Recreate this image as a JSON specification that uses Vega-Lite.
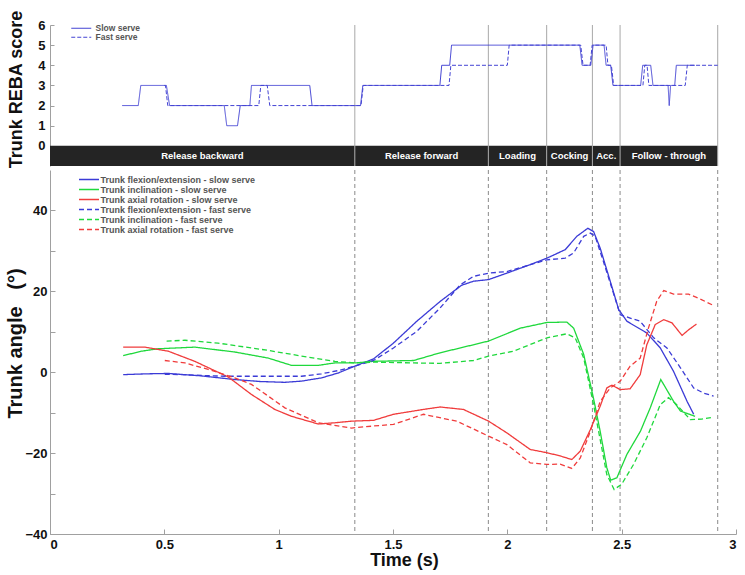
{
  "$schema": "https://vega.github.io/schema/vega-lite/v6.json",
  "background": "white",
  "padding": {"left": 5, "top": 9, "right": 6, "bottom": 4},
  "spacing": 0,
  "resolve": {
    "scale": {"strokeDash": "independent", "color": "independent"},
    "legend": {"strokeDash": "independent", "color": "independent"}
  },
  "config": {
    "view": {"stroke": null},
    "font": "Liberation Sans",
    "axis": {
      "domainColor": "#a0a0a0",
      "tickColor": "#a0a0a0",
      "labelFont": "Liberation Sans",
      "labelFontWeight": "bold",
      "labelFontSize": 13,
      "labelColor": "#111",
      "titleFont": "Liberation Sans",
      "titleFontWeight": "bold",
      "titleFontSize": 18,
      "titleColor": "#111",
      "grid": false
    },
    "legend": {
      "labelFont": "Liberation Sans",
      "labelFontWeight": "bold",
      "labelColor": "#555",
      "padding": 0,
      "rowPadding": -2
    }
  },
  "datasets": {
    "phases": [
      {"phase": "Release backward", "start": 0, "end": 1.333},
      {"phase": "Release forward", "start": 1.333, "end": 1.917},
      {"phase": "Loading", "start": 1.917, "end": 2.172},
      {"phase": "Cocking", "start": 2.172, "end": 2.372},
      {"phase": "Acc.", "start": 2.372, "end": 2.493},
      {"phase": "Follow - through", "start": 2.493, "end": 2.92}
    ],
    "reba": [
      {"serve": "Slow serve", "t": 0.316, "score": 2},
      {"serve": "Slow serve", "t": 0.386, "score": 2},
      {"serve": "Slow serve", "t": 0.397, "score": 3},
      {"serve": "Slow serve", "t": 0.509, "score": 3},
      {"serve": "Slow serve", "t": 0.523, "score": 2},
      {"serve": "Slow serve", "t": 0.762, "score": 2},
      {"serve": "Slow serve", "t": 0.773, "score": 1},
      {"serve": "Slow serve", "t": 0.82, "score": 1},
      {"serve": "Slow serve", "t": 0.832, "score": 2},
      {"serve": "Slow serve", "t": 0.874, "score": 2},
      {"serve": "Slow serve", "t": 0.881, "score": 3},
      {"serve": "Slow serve", "t": 1.136, "score": 3},
      {"serve": "Slow serve", "t": 1.146, "score": 2},
      {"serve": "Slow serve", "t": 1.358, "score": 2},
      {"serve": "Slow serve", "t": 1.368, "score": 3},
      {"serve": "Slow serve", "t": 1.705, "score": 3},
      {"serve": "Slow serve", "t": 1.713, "score": 4},
      {"serve": "Slow serve", "t": 1.748, "score": 4},
      {"serve": "Slow serve", "t": 1.756, "score": 5},
      {"serve": "Slow serve", "t": 2.317, "score": 5},
      {"serve": "Slow serve", "t": 2.327, "score": 4},
      {"serve": "Slow serve", "t": 2.365, "score": 4},
      {"serve": "Slow serve", "t": 2.375, "score": 5},
      {"serve": "Slow serve", "t": 2.423, "score": 5},
      {"serve": "Slow serve", "t": 2.432, "score": 4},
      {"serve": "Slow serve", "t": 2.452, "score": 4},
      {"serve": "Slow serve", "t": 2.462, "score": 3},
      {"serve": "Slow serve", "t": 2.583, "score": 3},
      {"serve": "Slow serve", "t": 2.592, "score": 4},
      {"serve": "Slow serve", "t": 2.627, "score": 4},
      {"serve": "Slow serve", "t": 2.637, "score": 3},
      {"serve": "Slow serve", "t": 2.703, "score": 3},
      {"serve": "Slow serve", "t": 2.708, "score": 2},
      {"serve": "Slow serve", "t": 2.714, "score": 3},
      {"serve": "Slow serve", "t": 2.732, "score": 3},
      {"serve": "Slow serve", "t": 2.739, "score": 4},
      {"serve": "Slow serve", "t": 2.82, "score": 4},
      {"serve": "Fast serve", "t": 0.5, "score": 3},
      {"serve": "Fast serve", "t": 0.505, "score": 3},
      {"serve": "Fast serve", "t": 0.515, "score": 2},
      {"serve": "Fast serve", "t": 0.913, "score": 2},
      {"serve": "Fast serve", "t": 0.922, "score": 3},
      {"serve": "Fast serve", "t": 0.95, "score": 3},
      {"serve": "Fast serve", "t": 0.961, "score": 2},
      {"serve": "Fast serve", "t": 1.36, "score": 2},
      {"serve": "Fast serve", "t": 1.37, "score": 3},
      {"serve": "Fast serve", "t": 1.745, "score": 3},
      {"serve": "Fast serve", "t": 1.753, "score": 4},
      {"serve": "Fast serve", "t": 2.0, "score": 4},
      {"serve": "Fast serve", "t": 2.008, "score": 5},
      {"serve": "Fast serve", "t": 2.321, "score": 5},
      {"serve": "Fast serve", "t": 2.331, "score": 4},
      {"serve": "Fast serve", "t": 2.362, "score": 4},
      {"serve": "Fast serve", "t": 2.371, "score": 5},
      {"serve": "Fast serve", "t": 2.432, "score": 5},
      {"serve": "Fast serve", "t": 2.44, "score": 4},
      {"serve": "Fast serve", "t": 2.455, "score": 4},
      {"serve": "Fast serve", "t": 2.465, "score": 3},
      {"serve": "Fast serve", "t": 2.593, "score": 3},
      {"serve": "Fast serve", "t": 2.601, "score": 4},
      {"serve": "Fast serve", "t": 2.611, "score": 4},
      {"serve": "Fast serve", "t": 2.619, "score": 3},
      {"serve": "Fast serve", "t": 2.778, "score": 3},
      {"serve": "Fast serve", "t": 2.787, "score": 4},
      {"serve": "Fast serve", "t": 2.92, "score": 4}
    ],
    "angles": [
      {"s": "Trunk flexion/extension - slow serve", "t": 0.32, "v": -0.6},
      {"s": "Trunk flexion/extension - slow serve", "t": 0.42, "v": -0.4},
      {"s": "Trunk flexion/extension - slow serve", "t": 0.517, "v": -0.3},
      {"s": "Trunk flexion/extension - slow serve", "t": 0.66, "v": -0.9},
      {"s": "Trunk flexion/extension - slow serve", "t": 0.807, "v": -1.8},
      {"s": "Trunk flexion/extension - slow serve", "t": 0.92, "v": -2.3},
      {"s": "Trunk flexion/extension - slow serve", "t": 1.026, "v": -2.5},
      {"s": "Trunk flexion/extension - slow serve", "t": 1.1, "v": -2.2},
      {"s": "Trunk flexion/extension - slow serve", "t": 1.187, "v": -1.4},
      {"s": "Trunk flexion/extension - slow serve", "t": 1.26, "v": -0.2},
      {"s": "Trunk flexion/extension - slow serve", "t": 1.333, "v": 1.5},
      {"s": "Trunk flexion/extension - slow serve", "t": 1.415, "v": 3.3},
      {"s": "Trunk flexion/extension - slow serve", "t": 1.502, "v": 7.2},
      {"s": "Trunk flexion/extension - slow serve", "t": 1.604, "v": 12.6},
      {"s": "Trunk flexion/extension - slow serve", "t": 1.706, "v": 17.5},
      {"s": "Trunk flexion/extension - slow serve", "t": 1.8, "v": 21.5},
      {"s": "Trunk flexion/extension - slow serve", "t": 1.852, "v": 22.5},
      {"s": "Trunk flexion/extension - slow serve", "t": 1.918, "v": 22.9},
      {"s": "Trunk flexion/extension - slow serve", "t": 1.998, "v": 24.5},
      {"s": "Trunk flexion/extension - slow serve", "t": 2.1, "v": 26.6},
      {"s": "Trunk flexion/extension - slow serve", "t": 2.173, "v": 28.2},
      {"s": "Trunk flexion/extension - slow serve", "t": 2.253, "v": 30.3},
      {"s": "Trunk flexion/extension - slow serve", "t": 2.304, "v": 33.6},
      {"s": "Trunk flexion/extension - slow serve", "t": 2.352, "v": 35.6},
      {"s": "Trunk flexion/extension - slow serve", "t": 2.377, "v": 34.8},
      {"s": "Trunk flexion/extension - slow serve", "t": 2.406, "v": 30.7},
      {"s": "Trunk flexion/extension - slow serve", "t": 2.45, "v": 22.5},
      {"s": "Trunk flexion/extension - slow serve", "t": 2.487, "v": 15.5},
      {"s": "Trunk flexion/extension - slow serve", "t": 2.523, "v": 12.6},
      {"s": "Trunk flexion/extension - slow serve", "t": 2.574, "v": 10.9},
      {"s": "Trunk flexion/extension - slow serve", "t": 2.61, "v": 9.7},
      {"s": "Trunk flexion/extension - slow serve", "t": 2.669, "v": 6.0},
      {"s": "Trunk flexion/extension - slow serve", "t": 2.727, "v": 0.2},
      {"s": "Trunk flexion/extension - slow serve", "t": 2.786, "v": -7.2},
      {"s": "Trunk flexion/extension - slow serve", "t": 2.815, "v": -10.4},
      {"s": "Trunk inclination - slow serve", "t": 0.32, "v": 4.1},
      {"s": "Trunk inclination - slow serve", "t": 0.4, "v": 5.2},
      {"s": "Trunk inclination - slow serve", "t": 0.473, "v": 5.8},
      {"s": "Trunk inclination - slow serve", "t": 0.633, "v": 6.2},
      {"s": "Trunk inclination - slow serve", "t": 0.808, "v": 5.0},
      {"s": "Trunk inclination - slow serve", "t": 0.954, "v": 3.5},
      {"s": "Trunk inclination - slow serve", "t": 1.056, "v": 1.7},
      {"s": "Trunk inclination - slow serve", "t": 1.173, "v": 1.7},
      {"s": "Trunk inclination - slow serve", "t": 1.246, "v": 2.3},
      {"s": "Trunk inclination - slow serve", "t": 1.333, "v": 2.3},
      {"s": "Trunk inclination - slow serve", "t": 1.415, "v": 2.7},
      {"s": "Trunk inclination - slow serve", "t": 1.59, "v": 2.9},
      {"s": "Trunk inclination - slow serve", "t": 1.706, "v": 4.8},
      {"s": "Trunk inclination - slow serve", "t": 1.918, "v": 7.7},
      {"s": "Trunk inclination - slow serve", "t": 2.057, "v": 10.9},
      {"s": "Trunk inclination - slow serve", "t": 2.173, "v": 12.3},
      {"s": "Trunk inclination - slow serve", "t": 2.26, "v": 12.4},
      {"s": "Trunk inclination - slow serve", "t": 2.29, "v": 10.9},
      {"s": "Trunk inclination - slow serve", "t": 2.334, "v": 4.4},
      {"s": "Trunk inclination - slow serve", "t": 2.377, "v": -6.5},
      {"s": "Trunk inclination - slow serve", "t": 2.406, "v": -14.6},
      {"s": "Trunk inclination - slow serve", "t": 2.435, "v": -23.6},
      {"s": "Trunk inclination - slow serve", "t": 2.452, "v": -26.7},
      {"s": "Trunk inclination - slow serve", "t": 2.479, "v": -26.1},
      {"s": "Trunk inclination - slow serve", "t": 2.523, "v": -20.3},
      {"s": "Trunk inclination - slow serve", "t": 2.582, "v": -14.6},
      {"s": "Trunk inclination - slow serve", "t": 2.625, "v": -8.8},
      {"s": "Trunk inclination - slow serve", "t": 2.671, "v": -1.8},
      {"s": "Trunk inclination - slow serve", "t": 2.727, "v": -7.2},
      {"s": "Trunk inclination - slow serve", "t": 2.757, "v": -9.6},
      {"s": "Trunk inclination - slow serve", "t": 2.821, "v": -10.9},
      {"s": "Trunk axial rotation - slow serve", "t": 0.32, "v": 6.2},
      {"s": "Trunk axial rotation - slow serve", "t": 0.415, "v": 6.2},
      {"s": "Trunk axial rotation - slow serve", "t": 0.517, "v": 5.2},
      {"s": "Trunk axial rotation - slow serve", "t": 0.633, "v": 2.7},
      {"s": "Trunk axial rotation - slow serve", "t": 0.78, "v": -1.2},
      {"s": "Trunk axial rotation - slow serve", "t": 0.881, "v": -5.5},
      {"s": "Trunk axial rotation - slow serve", "t": 0.983, "v": -9.2},
      {"s": "Trunk axial rotation - slow serve", "t": 1.056, "v": -10.9},
      {"s": "Trunk axial rotation - slow serve", "t": 1.173, "v": -12.8},
      {"s": "Trunk axial rotation - slow serve", "t": 1.246, "v": -12.5},
      {"s": "Trunk axial rotation - slow serve", "t": 1.319, "v": -12.1},
      {"s": "Trunk axial rotation - slow serve", "t": 1.415, "v": -11.9},
      {"s": "Trunk axial rotation - slow serve", "t": 1.502, "v": -10.4},
      {"s": "Trunk axial rotation - slow serve", "t": 1.633, "v": -9.2},
      {"s": "Trunk axial rotation - slow serve", "t": 1.706, "v": -8.6},
      {"s": "Trunk axial rotation - slow serve", "t": 1.808, "v": -9.2},
      {"s": "Trunk axial rotation - slow serve", "t": 1.918, "v": -12.1},
      {"s": "Trunk axial rotation - slow serve", "t": 1.998, "v": -15.0},
      {"s": "Trunk axial rotation - slow serve", "t": 2.1, "v": -19.1},
      {"s": "Trunk axial rotation - slow serve", "t": 2.173, "v": -19.9},
      {"s": "Trunk axial rotation - slow serve", "t": 2.231, "v": -20.7},
      {"s": "Trunk axial rotation - slow serve", "t": 2.282, "v": -21.6},
      {"s": "Trunk axial rotation - slow serve", "t": 2.319, "v": -19.5},
      {"s": "Trunk axial rotation - slow serve", "t": 2.363, "v": -14.2},
      {"s": "Trunk axial rotation - slow serve", "t": 2.406, "v": -8.4},
      {"s": "Trunk axial rotation - slow serve", "t": 2.435, "v": -3.9},
      {"s": "Trunk axial rotation - slow serve", "t": 2.457, "v": -3.2},
      {"s": "Trunk axial rotation - slow serve", "t": 2.494, "v": -4.3},
      {"s": "Trunk axial rotation - slow serve", "t": 2.537, "v": -4.1},
      {"s": "Trunk axial rotation - slow serve", "t": 2.581, "v": -0.6},
      {"s": "Trunk axial rotation - slow serve", "t": 2.61, "v": 6.8},
      {"s": "Trunk axial rotation - slow serve", "t": 2.647, "v": 11.8},
      {"s": "Trunk axial rotation - slow serve", "t": 2.684, "v": 13.0},
      {"s": "Trunk axial rotation - slow serve", "t": 2.72, "v": 12.2},
      {"s": "Trunk axial rotation - slow serve", "t": 2.764, "v": 9.1},
      {"s": "Trunk axial rotation - slow serve", "t": 2.793, "v": 10.5},
      {"s": "Trunk axial rotation - slow serve", "t": 2.827, "v": 11.9},
      {"s": "Trunk flexion/extension - fast serve", "t": 0.502, "v": -0.5},
      {"s": "Trunk flexion/extension - fast serve", "t": 0.58, "v": -0.6},
      {"s": "Trunk flexion/extension - fast serve", "t": 0.662, "v": -0.8},
      {"s": "Trunk flexion/extension - fast serve", "t": 0.77, "v": -1.0},
      {"s": "Trunk flexion/extension - fast serve", "t": 0.88, "v": -1.0},
      {"s": "Trunk flexion/extension - fast serve", "t": 1.0, "v": -1.0},
      {"s": "Trunk flexion/extension - fast serve", "t": 1.1, "v": -1.0},
      {"s": "Trunk flexion/extension - fast serve", "t": 1.187, "v": -0.4},
      {"s": "Trunk flexion/extension - fast serve", "t": 1.26, "v": 0.4},
      {"s": "Trunk flexion/extension - fast serve", "t": 1.333, "v": 1.5},
      {"s": "Trunk flexion/extension - fast serve", "t": 1.415, "v": 2.9},
      {"s": "Trunk flexion/extension - fast serve", "t": 1.502, "v": 6.0},
      {"s": "Trunk flexion/extension - fast serve", "t": 1.604, "v": 10.1},
      {"s": "Trunk flexion/extension - fast serve", "t": 1.706, "v": 15.9},
      {"s": "Trunk flexion/extension - fast serve", "t": 1.794, "v": 21.6},
      {"s": "Trunk flexion/extension - fast serve", "t": 1.852, "v": 23.7},
      {"s": "Trunk flexion/extension - fast serve", "t": 1.918, "v": 24.5},
      {"s": "Trunk flexion/extension - fast serve", "t": 1.998, "v": 24.9},
      {"s": "Trunk flexion/extension - fast serve", "t": 2.1, "v": 26.6},
      {"s": "Trunk flexion/extension - fast serve", "t": 2.173, "v": 27.8},
      {"s": "Trunk flexion/extension - fast serve", "t": 2.253, "v": 28.2},
      {"s": "Trunk flexion/extension - fast serve", "t": 2.29, "v": 29.5},
      {"s": "Trunk flexion/extension - fast serve", "t": 2.334, "v": 33.6},
      {"s": "Trunk flexion/extension - fast serve", "t": 2.363, "v": 34.4},
      {"s": "Trunk flexion/extension - fast serve", "t": 2.384, "v": 33.6},
      {"s": "Trunk flexion/extension - fast serve", "t": 2.42, "v": 27.4},
      {"s": "Trunk flexion/extension - fast serve", "t": 2.457, "v": 20.8},
      {"s": "Trunk flexion/extension - fast serve", "t": 2.494, "v": 14.2},
      {"s": "Trunk flexion/extension - fast serve", "t": 2.537, "v": 13.4},
      {"s": "Trunk flexion/extension - fast serve", "t": 2.581, "v": 12.6},
      {"s": "Trunk flexion/extension - fast serve", "t": 2.64, "v": 8.5},
      {"s": "Trunk flexion/extension - fast serve", "t": 2.698, "v": 6.0},
      {"s": "Trunk flexion/extension - fast serve", "t": 2.757, "v": 1.1},
      {"s": "Trunk flexion/extension - fast serve", "t": 2.815, "v": -3.9},
      {"s": "Trunk flexion/extension - fast serve", "t": 2.86, "v": -5.2},
      {"s": "Trunk flexion/extension - fast serve", "t": 2.902, "v": -5.9},
      {"s": "Trunk inclination - fast serve", "t": 0.51, "v": 7.7},
      {"s": "Trunk inclination - fast serve", "t": 0.59, "v": 7.9},
      {"s": "Trunk inclination - fast serve", "t": 0.735, "v": 7.2},
      {"s": "Trunk inclination - fast serve", "t": 0.954, "v": 5.4},
      {"s": "Trunk inclination - fast serve", "t": 1.1, "v": 4.0},
      {"s": "Trunk inclination - fast serve", "t": 1.246, "v": 2.7},
      {"s": "Trunk inclination - fast serve", "t": 1.333, "v": 2.3},
      {"s": "Trunk inclination - fast serve", "t": 1.415, "v": 2.5},
      {"s": "Trunk inclination - fast serve", "t": 1.59, "v": 2.3},
      {"s": "Trunk inclination - fast serve", "t": 1.706, "v": 2.2},
      {"s": "Trunk inclination - fast serve", "t": 1.852, "v": 2.9},
      {"s": "Trunk inclination - fast serve", "t": 1.918, "v": 4.0},
      {"s": "Trunk inclination - fast serve", "t": 2.027, "v": 5.2},
      {"s": "Trunk inclination - fast serve", "t": 2.173, "v": 8.5},
      {"s": "Trunk inclination - fast serve", "t": 2.26, "v": 9.5},
      {"s": "Trunk inclination - fast serve", "t": 2.297, "v": 8.5},
      {"s": "Trunk inclination - fast serve", "t": 2.334, "v": 3.5},
      {"s": "Trunk inclination - fast serve", "t": 2.377, "v": -8.0},
      {"s": "Trunk inclination - fast serve", "t": 2.435, "v": -25.3},
      {"s": "Trunk inclination - fast serve", "t": 2.467, "v": -29.0},
      {"s": "Trunk inclination - fast serve", "t": 2.5, "v": -27.7},
      {"s": "Trunk inclination - fast serve", "t": 2.552, "v": -22.8},
      {"s": "Trunk inclination - fast serve", "t": 2.61, "v": -16.2},
      {"s": "Trunk inclination - fast serve", "t": 2.669, "v": -8.0},
      {"s": "Trunk inclination - fast serve", "t": 2.705, "v": -6.3},
      {"s": "Trunk inclination - fast serve", "t": 2.74, "v": -8.0},
      {"s": "Trunk inclination - fast serve", "t": 2.8, "v": -11.7},
      {"s": "Trunk inclination - fast serve", "t": 2.85, "v": -11.6},
      {"s": "Trunk inclination - fast serve", "t": 2.902, "v": -11.1},
      {"s": "Trunk axial rotation - fast serve", "t": 0.502, "v": 2.9},
      {"s": "Trunk axial rotation - fast serve", "t": 0.59, "v": 2.3},
      {"s": "Trunk axial rotation - fast serve", "t": 0.692, "v": 0.7},
      {"s": "Trunk axial rotation - fast serve", "t": 0.808, "v": -1.4},
      {"s": "Trunk axial rotation - fast serve", "t": 0.881, "v": -3.0},
      {"s": "Trunk axial rotation - fast serve", "t": 1.027, "v": -8.8},
      {"s": "Trunk axial rotation - fast serve", "t": 1.173, "v": -12.5},
      {"s": "Trunk axial rotation - fast serve", "t": 1.319, "v": -13.8},
      {"s": "Trunk axial rotation - fast serve", "t": 1.415, "v": -13.3},
      {"s": "Trunk axial rotation - fast serve", "t": 1.502, "v": -12.9},
      {"s": "Trunk axial rotation - fast serve", "t": 1.633, "v": -10.4},
      {"s": "Trunk axial rotation - fast serve", "t": 1.779, "v": -12.1},
      {"s": "Trunk axial rotation - fast serve", "t": 1.918, "v": -15.8},
      {"s": "Trunk axial rotation - fast serve", "t": 1.998, "v": -17.9},
      {"s": "Trunk axial rotation - fast serve", "t": 2.1, "v": -22.4},
      {"s": "Trunk axial rotation - fast serve", "t": 2.173, "v": -22.8},
      {"s": "Trunk axial rotation - fast serve", "t": 2.231, "v": -22.7},
      {"s": "Trunk axial rotation - fast serve", "t": 2.282, "v": -23.8},
      {"s": "Trunk axial rotation - fast serve", "t": 2.319, "v": -21.2},
      {"s": "Trunk axial rotation - fast serve", "t": 2.363, "v": -14.6},
      {"s": "Trunk axial rotation - fast serve", "t": 2.406, "v": -7.2},
      {"s": "Trunk axial rotation - fast serve", "t": 2.45, "v": -3.9},
      {"s": "Trunk axial rotation - fast serve", "t": 2.494, "v": -2.2},
      {"s": "Trunk axial rotation - fast serve", "t": 2.537, "v": 1.5},
      {"s": "Trunk axial rotation - fast serve", "t": 2.581, "v": 3.5},
      {"s": "Trunk axial rotation - fast serve", "t": 2.617, "v": 10.9},
      {"s": "Trunk axial rotation - fast serve", "t": 2.653, "v": 17.5},
      {"s": "Trunk axial rotation - fast serve", "t": 2.684, "v": 20.2},
      {"s": "Trunk axial rotation - fast serve", "t": 2.727, "v": 19.3},
      {"s": "Trunk axial rotation - fast serve", "t": 2.793, "v": 19.3},
      {"s": "Trunk axial rotation - fast serve", "t": 2.836, "v": 18.3},
      {"s": "Trunk axial rotation - fast serve", "t": 2.902, "v": 16.5}
    ]
  },
  "vconcat": [
    {
      "width": 686,
      "height": 141,
      "layer": [
        {
          "data": {"name": "phases"},
          "mark": {"type": "rect", "color": "#242424"},
          "encoding": {
            "x": {"field": "start", "type": "quantitative", "scale": {"domain": [0, 3]}, "axis": null},
            "x2": {"field": "end"},
            "y": {
              "datum": -1,
              "type": "quantitative",
              "scale": {"domain": [-1, 6]},
              "axis": {
                "title": "Trunk REBA score",
                "values": [0, 1, 2, 3, 4, 5, 6],
                "labelOverlap": false,
                "tickSize": -4,
                "labelPadding": 9,
                "titleX": -24.5,
                "titleY": 64
              }
            },
            "y2": {"datum": 0}
          }
        },
        {
          "data": {"name": "phases"},
          "mark": {"type": "rule", "color": "#a8a8a8", "strokeWidth": 1},
          "encoding": {
            "x": {"field": "end", "type": "quantitative", "axis": null}
          }
        },
        {
          "data": {"name": "phases"},
          "transform": [{"calculate": "(datum.start + datum.end) / 2", "as": "mid"}],
          "mark": {"type": "text", "color": "white", "fontWeight": "bold", "fontSize": 9.5, "font": "Liberation Sans"},
          "encoding": {
            "x": {"field": "mid", "type": "quantitative", "axis": null},
            "y": {
              "datum": -0.5,
              "type": "quantitative",
              "axis": {
                "title": "Trunk REBA score",
                "values": [0, 1, 2, 3, 4, 5, 6],
                "labelOverlap": false,
                "tickSize": -4,
                "labelPadding": 9,
                "titleX": -24.5,
                "titleY": 64
              }
            },
            "text": {"field": "phase"}
          }
        },
        {
          "data": {"name": "reba"},
          "mark": {"type": "line", "color": "#4444d4", "strokeWidth": 1},
          "encoding": {
            "x": {"field": "t", "type": "quantitative", "axis": null},
            "y": {
              "field": "score",
              "type": "quantitative",
              "axis": {
                "title": "Trunk REBA score",
                "values": [0, 1, 2, 3, 4, 5, 6],
                "labelOverlap": false,
                "tickSize": -4,
                "labelPadding": 9,
                "titleX": -24.5,
                "titleY": 64
              }
            },
            "strokeDash": {
              "field": "serve",
              "type": "nominal",
              "scale": {"domain": ["Slow serve", "Fast serve"], "range": [[1, 0], [4, 2]]},
              "legend": {
                "orient": "none",
                "legendX": 27,
                "legendY": -1,
                "title": null,
                "symbolType": "M-5,0H5",
                "symbolSize": 16,
                "symbolStrokeColor": "#4444d4",
                "symbolStrokeWidth": 1.2,
                "labelFontSize": 8.5,
                "labelOffset": 10
              }
            }
          }
        }
      ]
    },
    {
      "width": 686,
      "height": 364,
      "layer": [
        {
          "data": {"name": "phases"},
          "mark": {"type": "rule", "color": "#8a8a8a", "strokeWidth": 1, "strokeDash": [4, 3]},
          "encoding": {
            "x": {"field": "end", "type": "quantitative", "scale": {"domain": [0, 3]}, "axis": {"title": "Time (s)"}}
          }
        },
        {
          "data": {"name": "angles"},
          "mark": {"type": "line", "strokeWidth": 1.3},
          "encoding": {
            "x": {
              "field": "t",
              "type": "quantitative",
              "scale": {"domain": [0, 3]},
              "axis": {
                "title": "Time (s)",
                "values": [0, 0.5, 1, 1.5, 2, 2.5, 3],
                "format": ".1~f",
                "tickSize": -5,
                "labelPadding": 9,
                "titlePadding": 0,
                "titleX": 354
              }
            },
            "y": {
              "field": "v",
              "type": "quantitative",
              "scale": {"domain": [-40, 50]},
              "axis": {
                "title": "Trunk angle\u00a0\u00a0\u00a0(°)",
                "titleFontSize": 20,
                "values": [-40, -30, -20, -10, 0, 10, 20, 30, 40],
                "labelExpr": "datum.value % 20 === 0 ? datum.label : ''",
                "tickSize": -5,
                "labelPadding": 8,
                "titleX": -24.5,
                "titleY": 173
              }
            },
            "color": {
              "field": "s",
              "type": "nominal",
              "scale": {
                "domain": [
                  "Trunk flexion/extension - slow serve",
                  "Trunk inclination - slow serve",
                  "Trunk axial rotation - slow serve",
                  "Trunk flexion/extension - fast serve",
                  "Trunk inclination - fast serve",
                  "Trunk axial rotation - fast serve"
                ],
                "range": ["#3b3bd6", "#1fd83c", "#f03c3c", "#3b3bd6", "#1fd83c", "#f03c3c"]
              },
              "legend": {
                "orient": "none",
                "legendX": 34.5,
                "legendY": 5,
                "title": null,
                "symbolType": "M-5,0H5",
                "symbolSize": 16,
                "symbolStrokeWidth": 1.3,
                "labelFontSize": 9,
                "labelOffset": 7,
                "rowPadding": -1.2,
                "encode": {
                  "symbols": {
                    "update": {
                      "strokeDash": {"signal": "indexof(datum.value, 'fast') >= 0 ? [5, 3] : [1, 0]"}
                    }
                  }
                }
              }
            },
            "strokeDash": {
              "field": "s",
              "type": "nominal",
              "scale": {
                "domain": [
                  "Trunk flexion/extension - slow serve",
                  "Trunk inclination - slow serve",
                  "Trunk axial rotation - slow serve",
                  "Trunk flexion/extension - fast serve",
                  "Trunk inclination - fast serve",
                  "Trunk axial rotation - fast serve"
                ],
                "range": [[1, 0], [1, 0], [1, 0], [5, 3], [5, 3], [5, 3]]
              },
              "legend": null
            }
          }
        }
      ]
    }
  ]
}
